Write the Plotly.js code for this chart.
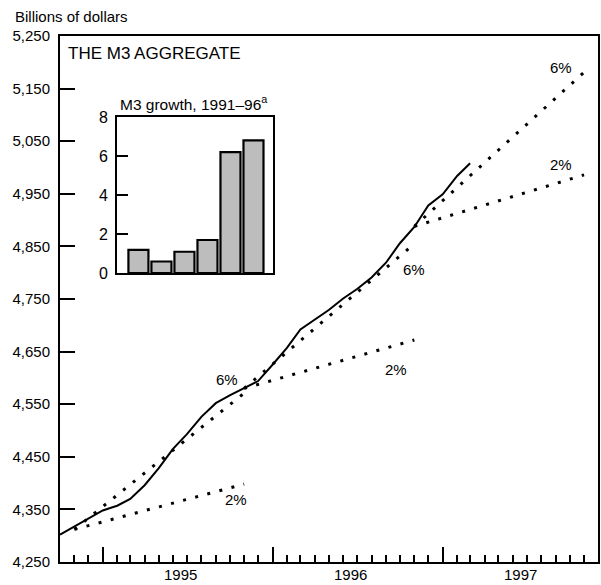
<!DOCTYPE html>
<html>
<head>
<meta charset="utf-8">
<script src="https://cdn.plot.ly/plotly-3.0.1.min.js"></script>
<style>
html,body{margin:0;padding:0;background:#ffffff;}
#chart{width:601px;height:585px;}
</style>
</head>
<body>
<div id="chart"></div>
<script>
// ---- Data: M3 level, billions of dollars (monthly) ----
const months = ['1994-10','1994-11','1994-12',
  '1995-01','1995-02','1995-03','1995-04','1995-05','1995-06','1995-07','1995-08','1995-09','1995-10','1995-11','1995-12',
  '1996-01','1996-02','1996-03','1996-04','1996-05','1996-06','1996-07','1996-08','1996-09','1996-10','1996-11','1996-12',
  '1997-01','1997-02','1997-03'];
const m3Level = [4302,4318,4332,
  4348,4357,4370,4396,4428,4465,4493,4526,4552,4567,4580,4594,
  4625,4657,4692,4710,4729,4751,4769,4791,4819,4856,4887,4928,
  4949,4984,5008];

// ---- Target growth cones (2% and 6% ranges) ----
const coneStart = ['1994-11','1995-11','1996-11'];
const coneEnd   = ['1995-11','1996-11','1997-11'];
const coneBase  = [4312, 4580, 4888];
const cone6pct  = [4571, 4855, 5181];
const cone2pct  = [4398, 4672, 4986];

// ---- Inset: M3 growth, 1991-96 (percent) ----
const insetYears  = ['1991','1992','1993','1994','1995','1996'];
const insetGrowth = [1.2, 0.6, 1.1, 1.7, 6.2, 6.8];

// ---- Axis labels ----
const yearLabels = ['1995','1996','1997'];
const yTicks = [4250,4350,4450,4550,4650,4750,4850,4950,5050,5150,5250];
const insetTicks = [0,2,4,6,8];

const mid = m => m + '-15';
const font = 'Liberation Sans, Arial, Helvetica, sans-serif';

const traces = [];
traces.push({
  x: months.map(mid), y: m3Level, type: 'scatter', mode: 'lines',
  line: {color: '#000', width: 2}, hoverinfo: 'skip'
});
for (let i = 0; i < coneStart.length; i++) {
  [cone6pct, cone2pct].forEach(arr => {
    traces.push({
      x: [mid(coneStart[i]), mid(coneEnd[i])], y: [coneBase[i], arr[i]],
      type: 'scatter', mode: 'lines',
      line: {color: '#000', width: 3, dash: '3px,9.5px'}, hoverinfo: 'skip'
    });
  });
}
traces.push({
  x: insetYears, y: insetGrowth, type: 'bar', xaxis: 'x2', yaxis: 'y2',
  width: 0.87,
  marker: {color: '#bdbdbd', line: {color: '#000', width: 2.2}}, hoverinfo: 'skip'
});

// monthly minor ticks and January major ticks
const minorTicks = [];
for (let y = 1994; y <= 1997; y++) {
  for (let m = 1; m <= 12; m++) {
    const s = y + '-' + String(m).padStart(2, '0');
    if (s >= '1994-11' && s <= '1997-12') minorTicks.push(mid(s));
  }
}
const majorTicks = yearLabels.map(y => y + '-01-15');

const annotations = [];
yearLabels.forEach(y => annotations.push({
  x: y + '-07-01', y: 0, xref: 'x', yref: 'paper', yanchor: 'top', yshift: -2,
  text: y, showarrow: false, font: {family: font, size: 15, color: '#000'}
}));
const pctLabels = [
  ['1995-10-10', 4597, '6%'], ['1995-10-29', 4368, '2%'],
  ['1996-11-14', 4806, '6%'], ['1996-10-06', 4616, '2%'],
  ['1997-09-26', 5191, '6%'], ['1997-09-27', 5006, '2%']
];
pctLabels.forEach(p => annotations.push({
  x: p[0], y: p[1], xref: 'x', yref: 'y', text: p[2], showarrow: false,
  font: {family: font, size: 15, color: '#000'}
}));
annotations.push({
  x: -0.087, y: 1.038, xref: 'paper', yref: 'paper', xanchor: 'left', yanchor: 'middle',
  text: 'Billions of dollars', showarrow: false, font: {family: font, size: 15, color: '#000'}
});
annotations.push({
  x: 0.012, y: 0.967, xref: 'paper', yref: 'paper', xanchor: 'left', yanchor: 'middle',
  text: 'THE M3 AGGREGATE', showarrow: false, font: {family: font, size: 17, color: '#000'}
});
annotations.push({
  x: 0.108, y: 0.872, xref: 'paper', yref: 'paper', xanchor: 'left', yanchor: 'middle',
  text: 'M3 growth, 1991–96<sup>a</sup>', showarrow: false, font: {family: font, size: 15.5, color: '#000'}
});

const layout = {
  width: 601, height: 585,
  margin: {l: 60, r: 3, t: 36, b: 23},
  paper_bgcolor: '#fff', plot_bgcolor: '#fff',
  showlegend: false,
  xaxis: {
    type: 'date', range: ['1994-10-15', '1997-12-15'],
    tickmode: 'array', tickvals: majorTicks, showticklabels: false,
    ticks: 'inside', ticklen: 15, tickwidth: 2, tickcolor: '#000',
    showline: true, linewidth: 2, linecolor: '#000', mirror: true,
    showgrid: false, zeroline: false, fixedrange: true,
    minor: {tickmode: 'array', tickvals: minorTicks, ticks: 'inside', ticklen: 7, tickwidth: 2, tickcolor: '#000', showgrid: false}
  },
  yaxis: {
    range: [4250, 5250], tickmode: 'array', tickvals: yTicks,
    ticktext: yTicks.map(v => v.toLocaleString('en-US')),
    ticks: 'inside', ticklen: 15, tickwidth: 2, tickcolor: '#000',
    showline: true, linewidth: 2, linecolor: '#000', mirror: true,
    showgrid: false, zeroline: false, ticklabelstandoff: 5,
    tickfont: {family: font, size: 15, color: '#000'}
  },
  xaxis2: {
    domain: [0.106, 0.396], anchor: 'y2', type: 'category', range: [-0.93, 5.85],
    showticklabels: false, ticks: '', showline: true, linewidth: 2, linecolor: '#000', mirror: true,
    showgrid: false, zeroline: false
  },
  yaxis2: {
    domain: [0.549, 0.846], anchor: 'x2', range: [0, 8], tickmode: 'array', tickvals: insetTicks,
    ticks: 'inside', ticklen: 11, tickwidth: 2, tickcolor: '#000',
    showline: true, linewidth: 2, linecolor: '#000', mirror: true,
    showgrid: false, zeroline: false, ticklabelstandoff: 4,
    tickfont: {family: font, size: 16, color: '#000'}
  },
  annotations: annotations
};

Plotly.newPlot('chart', traces, layout, {staticPlot: true, displayModeBar: false});
</script>
</body>
</html>
